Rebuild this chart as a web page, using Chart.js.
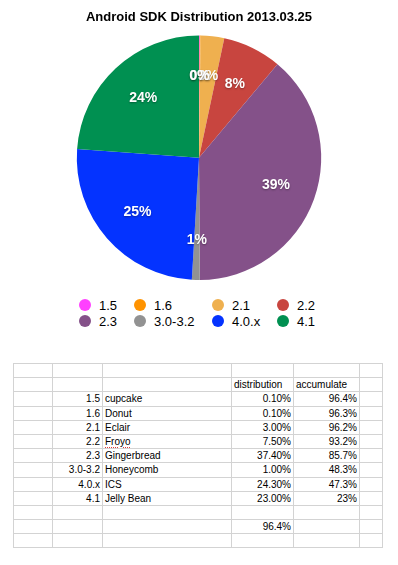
<!DOCTYPE html>
<html>
<head>
<meta charset="utf-8">
<script src="https://cdn.jsdelivr.net/npm/chart.js@4"></script>
<style>
  html, body { margin: 0; padding: 0; background: #fff; width: 398px; height: 565px; overflow: hidden; font-family: "Liberation Sans", Arial, Helvetica, sans-serif; }
  #wrap { position: relative; width: 398px; height: 565px; }
  #c { position: absolute; left: 0; top: 0; }
  #legend { position: absolute; left: 79px; top: 297px; display: grid; grid-template-columns: 55px 78px 65px 60px; grid-auto-rows: 16px; font-size: 13px; color: #000; }
  #legend .item { display: flex; align-items: center; white-space: nowrap; }
  #legend .dot { width: 12px; height: 12px; border-radius: 50%; margin-right: 8px; flex: none; }
  #sheet { position: absolute; left: 13px; top: 363px; border-collapse: collapse; table-layout: fixed; font-size: 10px; color: #000; }
  #sheet td { border: 1px solid #d3d3d3; height: 13.2px; padding: 0 2px; line-height: 13px; white-space: nowrap; overflow: hidden; }
  #sheet td.r { text-align: right; }
  .spell { text-decoration: underline dotted #e03a3a; text-underline-offset: 2px; }
</style>
</head>
<body>
<div id="wrap">
  <canvas id="c" width="398" height="280"></canvas>
  <div id="legend"></div>
  <table id="sheet"></table>
</div>
<script>
// ---- data ----
const titleText = "Android SDK Distribution 2013.03.25";
const versions = ["1.5", "1.6", "2.1", "2.2", "2.3", "3.0-3.2", "4.0.x", "4.1"];
const codenames = ["cupcake", "Donut", "Eclair", "Froyo", "Gingerbread", "Honeycomb", "ICS", "Jelly Bean"];
const distribution = [0.1, 0.1, 3.0, 7.5, 37.4, 1.0, 24.3, 23.0];
const accumulateLabels = ["96.4%", "96.3%", "96.2%", "93.2%", "85.7%", "48.3%", "47.3%", "23%"];
const totalLabel = "96.4%";
const sliceColors = ["#ff40ff", "#ff9300", "#efb04f", "#c8453f", "#845189", "#929292", "#0433ff", "#009051"];

const total = distribution.reduce((a, b) => a + b, 0);

// slice percentage labels plugin
const sliceLabels = {
  id: 'sliceLabels',
  afterDatasetsDraw(chart) {
    const ctx = chart.ctx;
    const meta = chart.getDatasetMeta(0);
    ctx.save();
    ctx.font = 'bold 14px "Liberation Sans", Arial, sans-serif';
    ctx.fillStyle = '#ffffff';
    ctx.textAlign = 'center';
    ctx.textBaseline = 'middle';
    ctx.shadowColor = 'rgba(0,0,0,0.35)';
    ctx.shadowBlur = 2;
    ctx.shadowOffsetY = 1;
    for (let i = meta.data.length - 1; i >= 0; i--) {
      const arc = meta.data[i];
      const p = arc.getProps(['x', 'y', 'startAngle', 'endAngle', 'outerRadius'], true);
      const mid = (p.startAngle + p.endAngle) / 2;
      const r = p.outerRadius * 0.67;
      const txt = Math.round(distribution[i] / total * 100) + '%';
      ctx.fillText(txt, p.x + Math.cos(mid) * r, p.y + Math.sin(mid) * r);
    }
    ctx.restore();
  }
};

new Chart(document.getElementById('c'), {
  type: 'pie',
  data: {
    labels: versions,
    datasets: [{
      data: distribution,
      backgroundColor: sliceColors,
      borderWidth: 0,
      hoverOffset: 0
    }]
  },
  options: {
    responsive: false,
    animation: false,
    devicePixelRatio: 1,
    layout: { padding: 0 },
    plugins: {
      legend: { display: false },
      tooltip: { enabled: false },
      title: {
        display: true,
        text: titleText,
        color: '#000',
        font: { family: '"Liberation Sans", Arial, sans-serif', size: 13, weight: 'bold' },
        padding: { top: 10, bottom: 10 }
      }
    }
  },
  plugins: [sliceLabels]
});

// legend
const legend = document.getElementById('legend');
versions.forEach((v, i) => {
  const it = document.createElement('div');
  it.className = 'item';
  const d = document.createElement('span');
  d.className = 'dot';
  d.style.background = sliceColors[i];
  it.appendChild(d);
  it.appendChild(document.createTextNode(v));
  legend.appendChild(it);
});

// spreadsheet table
const colWidths = [39, 50, 129, 62, 66, 23];
const sheet = document.getElementById('sheet');
const cg = document.createElement('colgroup');
colWidths.forEach(w => { const c = document.createElement('col'); c.style.width = w + 'px'; cg.appendChild(c); });
sheet.appendChild(cg);
function addRow(cells) {
  const tr = document.createElement('tr');
  for (let k = 0; k < 6; k++) {
    const td = document.createElement('td');
    const c = cells[k];
    if (c) {
      if (c.html) td.innerHTML = c.html; else td.textContent = c.t;
      if (c.r) td.className = 'r';
    }
    tr.appendChild(td);
  }
  sheet.appendChild(tr);
}
addRow([]);
addRow([null, null, null, { t: 'distribution' }, { t: 'accumulate' }]);
versions.forEach((v, i) => {
  const name = codenames[i] === 'Froyo' ? { html: '<span class="spell">Froyo</span>' } : { t: codenames[i] };
  addRow([null, { t: v, r: true }, name, { t: distribution[i].toFixed(2) + '%', r: true }, { t: accumulateLabels[i], r: true }]);
});
addRow([]);
addRow([null, null, null, { t: totalLabel, r: true }]);
addRow([]);
</script>
</body>
</html>
